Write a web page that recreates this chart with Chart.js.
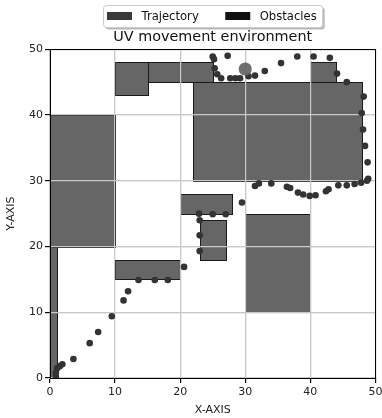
<!DOCTYPE html>
<html>
<head>
<meta charset="utf-8">
<script src="https://cdn.jsdelivr.net/npm/chart.js@4.4.1/dist/chart.umd.min.js"></script>
<style>
  html, body { margin: 0; padding: 0; background: #fff; }
</style>
</head>
<body>
<canvas id="uv-chart" width="382" height="418"></canvas>
<script>
// visited positions of the vehicle
const trajX = [0.9, 0.9, 1.1, 1.5, 1.9, 3.6, 6.1, 7.4, 9.5, 11.3, 12.0, 13.6, 16.1, 18.1, 20.6,
  23.0, 23.0, 23.0, 22.9, 25.0, 27.0, 29.5,
  31.5, 32.1, 34.0, 36.4, 36.9, 38.1, 38.9, 39.9, 40.8, 42.4, 42.8, 44.3, 45.6, 46.8, 47.8, 48.7,
  48.9, 48.8, 48.4, 48.1, 47.9, 48.2, 45.6, 44.1, 43.0, 40.5, 38.0, 35.5, 33.0, 31.5, 30.5,
  29.2, 28.5, 27.7, 26.3, 25.7, 25.3, 25.2, 25.0, 27.3];
const trajY = [0.2, 0.8, 1.5, 1.8, 2.1, 2.9, 5.3, 7.0, 9.4, 11.8, 13.2, 14.9, 14.9, 14.9, 16.9,
  19.3, 21.7, 24.0, 25.0, 24.9, 24.9, 26.7,
  29.2, 29.6, 29.6, 29.1, 28.9, 28.2, 27.9, 27.7, 27.8, 28.4, 28.7, 29.3, 29.3, 29.5, 29.7, 30.0,
  30.3, 32.8, 35.3, 37.8, 40.3, 42.8, 45.0, 46.3, 48.7, 48.9, 48.9, 47.9, 46.7, 46.0, 45.9,
  45.6, 45.6, 45.6, 45.6, 46.2, 47.1, 48.5, 48.9, 49.0];

// where the vehicle is now
const posX = [30];
const posY = [47];

// obstacles as [x0, y0, x1, y1]
const obstacles = [
  [0, 0, 1, 20],
  [0, 20, 10, 40],
  [10, 43, 15, 48],
  [15, 45, 25, 48],
  [22, 30, 48, 45],
  [40, 45, 44, 48],
  [20, 25, 28, 28],
  [23, 18, 27, 24],
  [30, 10, 40, 25],
  [10, 15, 20, 18]
];

const axisTicks = [0, 10, 20, 30, 40, 50];
const legendLabels = ['Trajectory', 'Obstacles'];
const legendColors = ['#3a3a3a', '#111111'];

const FONT = 'DejaVu Sans';

// obstacles go under the grid, points above it
const obstacleLayer = {
  id: 'obstacleLayer',
  beforeDatasetsDraw(chart) {
    const { ctx, chartArea, scales: { x, y } } = chart;
    ctx.save();
    ctx.beginPath();
    ctx.rect(chartArea.left, chartArea.top, chartArea.width, chartArea.height);
    ctx.clip();
    ctx.fillStyle = '#666666';
    ctx.strokeStyle = '#1a1a1a';
    ctx.lineWidth = 1;
    obstacles.forEach(([x0, y0, x1, y1]) => {
      const l = Math.round(x.getPixelForValue(x0)) + 0.5;
      const r = Math.round(x.getPixelForValue(x1)) + 0.5;
      const t = Math.round(y.getPixelForValue(y1)) + 0.5;
      const b = Math.round(y.getPixelForValue(y0)) + 0.5;
      ctx.fillRect(l, t, r - l, b - t);
      ctx.strokeRect(l, t, r - l, b - t);
    });
    ctx.restore();
    x.drawGrid(chartArea);
    y.drawGrid(chartArea);
  },
  afterDatasetsDraw(chart) {
    const { ctx, chartArea: a } = chart;
    const l = Math.round(a.left), t = Math.round(a.top);
    const r = Math.round(a.right), b = Math.round(a.bottom);
    ctx.save();
    ctx.strokeStyle = '#000';
    ctx.lineWidth = 1;
    ctx.strokeRect(l + 0.5, t + 0.5, r - l, b - t);
    ctx.restore();
  }
};

// framed legend above the title
const legendBox = {
  id: 'legendBox',
  afterDraw(chart) {
    const { ctx, chartArea: a } = chart;
    ctx.save();
    ctx.font = '11.6px "' + FONT + '"';
    const sw = 25, sh = 8, gap = 9.5, spacing = 26.5, padL = 3.5, padR = 6;
    const widths = legendLabels.map(t => ctx.measureText(t).width);
    let w = padL + padR + spacing * (legendLabels.length - 1);
    widths.forEach(tw => { w += sw + gap + tw; });
    const h = 22;
    const x0 = Math.round((a.left + a.right) / 2 - w / 2) + 0.5;
    const y0 = 5.5;

    ctx.fillStyle = 'rgba(0,0,0,0.28)';
    ctx.beginPath();
    ctx.roundRect(x0 + 2, y0 + 2, w, h, 3);
    ctx.fill();
    ctx.fillStyle = '#fff';
    ctx.strokeStyle = '#cccccc';
    ctx.lineWidth = 1;
    ctx.beginPath();
    ctx.roundRect(x0, y0, w, h, 3);
    ctx.fill();
    ctx.stroke();

    let cx = x0 + padL;
    const cy = y0 + h / 2;
    ctx.textBaseline = 'middle';
    legendLabels.forEach((label, i) => {
      ctx.fillStyle = legendColors[i];
      ctx.fillRect(cx, cy - sh / 2 - 0.5, sw, sh);
      cx += sw + gap;
      ctx.fillStyle = '#111';
      ctx.fillText(label, cx, cy);
      cx += widths[i] + spacing;
    });
    ctx.restore();
  }
};

function useTicks(scale) {
  scale.ticks = axisTicks.map(v => ({ value: v }));
}

new Chart(document.getElementById('uv-chart'), {
  type: 'scatter',
  data: {
    datasets: [
      {
        label: 'Position',
        data: posX.map((x, i) => ({ x: x, y: posY[i] })),
        backgroundColor: 'rgba(100,100,100,0.92)',
        borderWidth: 0,
        pointRadius: 6.6,
        order: 0
      },
      {
        label: 'Trajectory',
        data: trajX.map((x, i) => ({ x: x, y: trajY[i] })),
        backgroundColor: '#333333',
        borderWidth: 0,
        pointRadius: 3.3,
        order: 1
      }
    ]
  },
  options: {
    responsive: false,
    animation: false,
    events: [],
    layout: { padding: { top: 29, right: 3, left: 0, bottom: 0 } },
    plugins: {
      legend: { display: false },
      tooltip: { enabled: false },
      title: {
        display: true,
        text: 'UV movement environment',
        fullSize: false,
        color: '#111',
        font: { family: FONT, size: 14.4, weight: 'normal' },
        padding: { top: 0, bottom: 3 }
      }
    },
    scales: {
      x: {
        type: 'linear',
        min: 0,
        max: 50,
        afterBuildTicks: useTicks,
        ticks: { color: '#222', padding: 3, maxRotation: 0, font: { family: FONT, size: 11 } },
        grid: { color: '#c9c9c9', lineWidth: 1.2, tickColor: '#000', tickLength: 5, tickWidth: 1 },
        border: { color: '#000', width: 1 },
        title: {
          display: true,
          text: 'X-AXIS',
          color: '#222',
          font: { family: FONT, size: 11 },
          padding: { top: 0, bottom: 1 }
        },
        afterFit(s) {
          s.height = 40;
          s.paddingLeft = 0;
          s.paddingRight = 0;
        }
      },
      y: {
        type: 'linear',
        min: 0,
        max: 50,
        afterBuildTicks: useTicks,
        ticks: { color: '#222', padding: 2, font: { family: FONT, size: 11 } },
        grid: { color: '#c9c9c9', lineWidth: 1.2, tickColor: '#000', tickLength: 5, tickWidth: 1 },
        border: { color: '#000', width: 1 },
        title: {
          display: true,
          text: 'Y-AXIS',
          color: '#222',
          font: { family: FONT, size: 11 },
          padding: { top: 5, bottom: 0 }
        },
        afterFit(s) {
          s.width = 50;
        }
      }
    }
  },
  plugins: [obstacleLayer, legendBox]
});
</script>
</body>
</html>
